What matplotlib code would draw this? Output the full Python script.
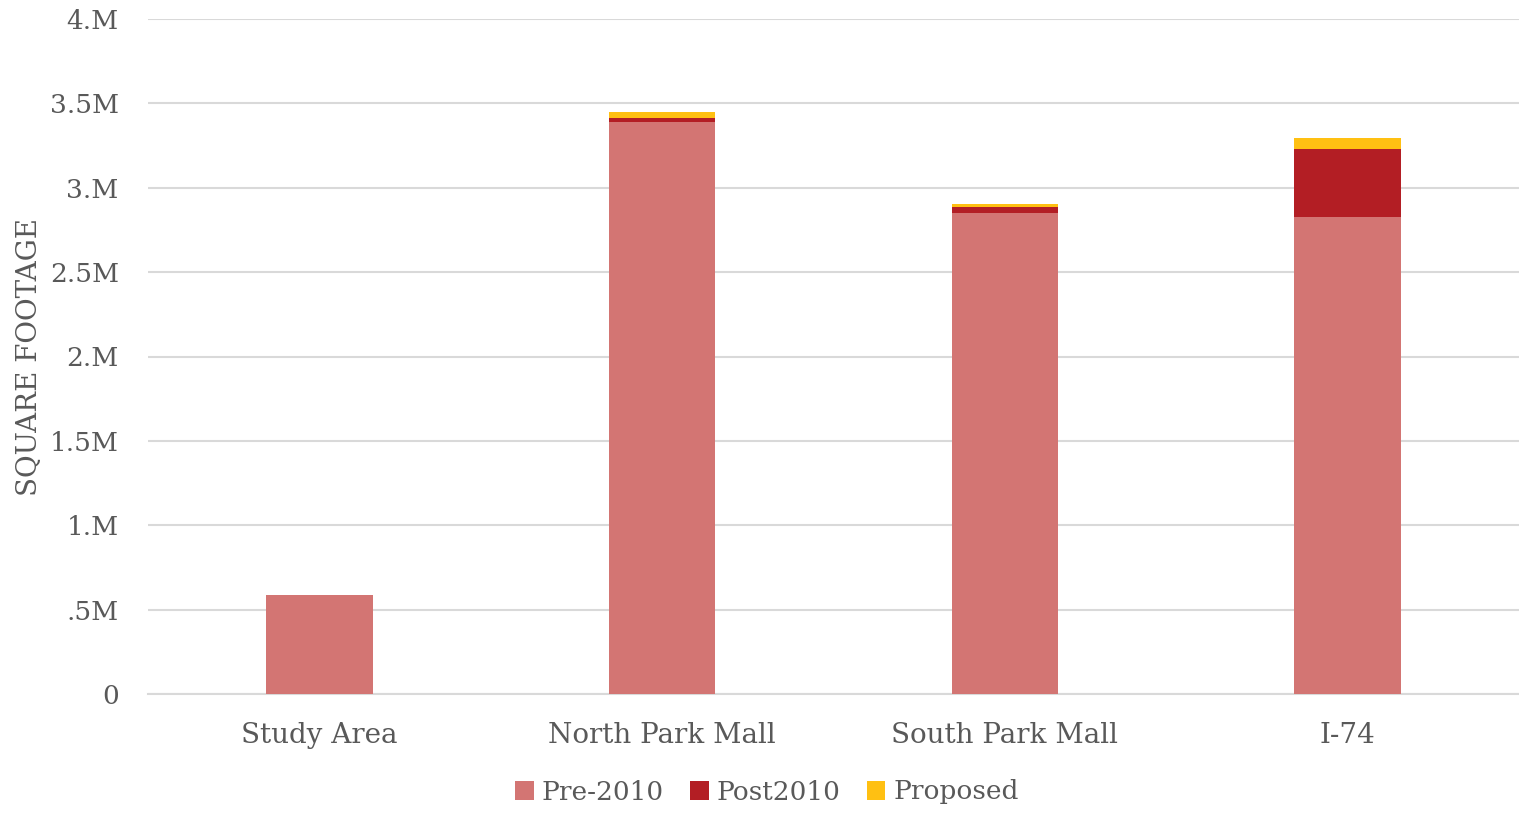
import numpy as np
import matplotlib.pyplot as plt
from matplotlib.ticker import FuncFormatter

# retail square footage by area (millions of sq ft)
areas = ["Study Area", "North Park Mall", "South Park Mall", "I-74"]
pre_2010 = [0.587, 3.39, 2.85, 2.827]
post_2010 = [0.0, 0.024, 0.037, 0.403]
proposed = [0.0, 0.037, 0.016, 0.065]

series_names = ["Pre-2010", "Post2010", "Proposed"]
series_colors = ["#D37573", "#B31E24", "#FFC012"]

plt.rcParams["font.family"] = ["DejaVu Serif"]
text_color = "#595959"

fig = plt.figure(figsize=(15.19, 8.19), dpi=100)
ax = fig.add_axes([148 / 1519, 1 - 694 / 819, 1371 / 1519, 675 / 819])

x = np.arange(len(areas))
width = 0.31
bottom = np.zeros(len(areas))
for vals, name, col in zip([pre_2010, post_2010, proposed], series_names, series_colors):
    vals = np.array(vals)
    ax.bar(x, vals, width, bottom=bottom, color=col, label=name, zorder=3)
    bottom += vals

ax.set_xlim(-0.5, 3.5)
ax.set_ylim(0, 4.0)
ax.set_yticks(np.arange(0, 4.01, 0.5))


def fmt_m(v, pos):
    if v == 0:
        return "0"
    s = f"{v:g}"
    if s.startswith("0."):
        s = s[1:]
    elif "." not in s:
        s = s + "."
    return s + "M"


ax.yaxis.set_major_formatter(FuncFormatter(fmt_m))
ax.set_xticks(x)
ax.set_xticklabels(areas)

ax.grid(axis="y", color="#d9d9d9", linewidth=1.5, zorder=0)
for side in ["top", "right", "left"]:
    ax.spines[side].set_visible(False)
ax.spines["bottom"].set_color("#d9d9d9")
ax.spines["bottom"].set_linewidth(1.5)
ax.tick_params(axis="both", length=0, colors=text_color)
ax.tick_params(axis="x", pad=20, labelsize=20)
ax.tick_params(axis="y", pad=21, labelsize=19)

ax.set_ylabel("SQUARE FOOTAGE", fontsize=20, color=text_color, labelpad=5)

# legend is centred on the figure, not the axes
fig.legend(*ax.get_legend_handles_labels(), loc="center",
           bbox_to_anchor=(767 / 1519, 1 - 792 / 819), ncol=3, frameon=False,
           fontsize=19, labelcolor=text_color, handlelength=0.7, handleheight=0.7,
           handletextpad=0.3, columnspacing=1.0)

fig.savefig("out.png", dpi=100)
